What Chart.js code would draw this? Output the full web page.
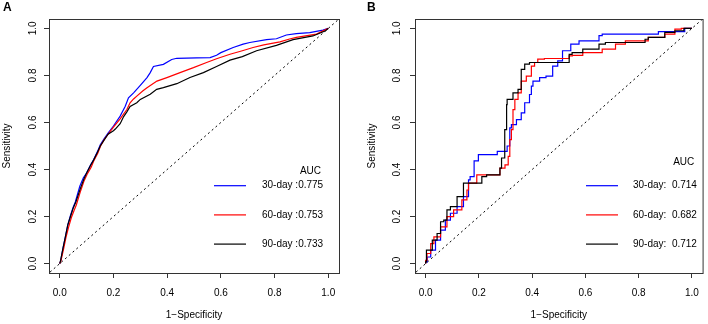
<!DOCTYPE html>
<html>
<head>
<meta charset="utf-8">
<script src="https://cdn.jsdelivr.net/npm/chart.js@4.4.0/dist/chart.umd.min.js"></script>
<style>
body { margin: 0; background: #fff; }
#cadre { position: relative; width: 708px; height: 324px; }
canvas { position: absolute; top: 0; }
#chartA { left: 0; }
#chartB { left: 354px; }
</style>
</head>
<body>
<div id="cadre">
<canvas id="chartA" width="354" height="324"></canvas>
<canvas id="chartB" width="354" height="324"></canvas>
</div>
<script>
// données (1-spécificité = fpr, sensibilité = tpr)
const jours = ['30-day', '60-day', '90-day'];
const couleurs = ['#0000ff', '#ff0000', '#000000'];
const aucA = ['0.775', '0.753', '0.733'];
const aucB = ['0.714', '0.682', '0.712'];
const ticksAxe = [0, 0.2, 0.4, 0.6, 0.8, 1.0];
const bornes = [-0.04, 1.04];
const diagonale = [-0.05, 1.05];

// panneau A
const fprA30 = [0, 0.003, 0.012, 0.021, 0.03, 0.04, 0.05, 0.058, 0.075, 0.088, 0.1, 0.115, 0.126, 0.14, 0.151, 0.165, 0.18, 0.2, 0.225, 0.244, 0.256, 0.275, 0.3, 0.325, 0.337, 0.349, 0.386, 0.417, 0.436, 0.51, 0.56, 0.584, 0.6, 0.646, 0.683, 0.708, 0.77, 0.807, 0.844, 0.881, 0.931, 0.98, 1];
const tprA30 = [0, 0.01, 0.065, 0.114, 0.165, 0.205, 0.24, 0.262, 0.33, 0.365, 0.385, 0.42, 0.441, 0.475, 0.505, 0.53, 0.555, 0.585, 0.627, 0.669, 0.705, 0.726, 0.758, 0.791, 0.812, 0.838, 0.847, 0.868, 0.873, 0.875, 0.876, 0.886, 0.897, 0.919, 0.933, 0.94, 0.952, 0.956, 0.972, 0.978, 0.982, 0.993, 1];
const fprA60 = [0, 0.004, 0.014, 0.023, 0.033, 0.043, 0.053, 0.062, 0.078, 0.09, 0.102, 0.117, 0.128, 0.142, 0.152, 0.166, 0.18, 0.2, 0.225, 0.25, 0.262, 0.275, 0.287, 0.31, 0.325, 0.362, 0.399, 0.448, 0.498, 0.547, 0.584, 0.634, 0.68, 0.72, 0.76, 0.82, 0.856, 0.881, 0.956, 1];
const tprA60 = [0, 0.01, 0.06, 0.11, 0.155, 0.195, 0.225, 0.25, 0.31, 0.35, 0.38, 0.41, 0.44, 0.47, 0.5, 0.528, 0.55, 0.58, 0.615, 0.655, 0.684, 0.7, 0.712, 0.735, 0.748, 0.776, 0.791, 0.812, 0.833, 0.855, 0.871, 0.89, 0.905, 0.919, 0.93, 0.943, 0.955, 0.962, 0.976, 1];
const fprA90 = [0, 0.003, 0.012, 0.021, 0.03, 0.04, 0.05, 0.06, 0.077, 0.09, 0.1, 0.115, 0.126, 0.14, 0.151, 0.165, 0.18, 0.2, 0.207, 0.225, 0.238, 0.25, 0.262, 0.287, 0.3, 0.337, 0.361, 0.386, 0.436, 0.485, 0.535, 0.584, 0.634, 0.68, 0.733, 0.807, 0.869, 0.943, 0.99, 1];
const tprA90 = [0, 0.012, 0.065, 0.114, 0.165, 0.2, 0.235, 0.262, 0.32, 0.36, 0.385, 0.418, 0.44, 0.472, 0.5, 0.525, 0.55, 0.565, 0.572, 0.595, 0.625, 0.645, 0.668, 0.684, 0.698, 0.72, 0.741, 0.748, 0.765, 0.791, 0.812, 0.838, 0.865, 0.88, 0.905, 0.928, 0.952, 0.968, 0.99, 1];

// panneau B
const fprB30 = [0, 0.006, 0.019, 0.037, 0.056, 0.074, 0.093, 0.118, 0.142, 0.161, 0.167, 0.182, 0.198, 0.269, 0.306, 0.316, 0.322, 0.341, 0.359, 0.372, 0.39, 0.397, 0.403, 0.428, 0.452, 0.477, 0.496, 0.514, 0.545, 0.576, 0.651, 0.663, 0.737, 0.874, 0.88, 0.973, 1];
const tprB30 = [0, 0.007, 0.028, 0.057, 0.1, 0.142, 0.185, 0.214, 0.242, 0.285, 0.356, 0.37, 0.437, 0.463, 0.477, 0.5, 0.577, 0.591, 0.612, 0.641, 0.684, 0.719, 0.755, 0.776, 0.791, 0.797, 0.84, 0.862, 0.905, 0.933, 0.947, 0.969, 0.976, 0.976, 0.986, 0.986, 1];
const fprB60 = [0, 0.005, 0.019, 0.031, 0.056, 0.08, 0.105, 0.136, 0.155, 0.161, 0.192, 0.223, 0.279, 0.298, 0.31, 0.316, 0.322, 0.328, 0.335, 0.347, 0.359, 0.378, 0.397, 0.409, 0.421, 0.446, 0.539, 0.551, 0.59, 0.663, 0.713, 0.75, 0.836, 0.898, 0.936, 0.96, 1];
const tprB60 = [0, 0.014, 0.043, 0.085, 0.114, 0.156, 0.2, 0.228, 0.271, 0.313, 0.342, 0.377, 0.377, 0.406, 0.42, 0.456, 0.527, 0.57, 0.655, 0.698, 0.726, 0.776, 0.797, 0.84, 0.855, 0.869, 0.872, 0.883, 0.885, 0.897, 0.912, 0.933, 0.947, 0.962, 0.976, 0.997, 1];
const fprB90 = [0, 0.003, 0.025, 0.043, 0.056, 0.068, 0.08, 0.093, 0.118, 0.142, 0.155, 0.211, 0.229, 0.279, 0.285, 0.297, 0.304, 0.306, 0.328, 0.347, 0.359, 0.372, 0.39, 0.421, 0.539, 0.55, 0.59, 0.651, 0.675, 0.737, 0.824, 0.836, 0.898, 0.936, 0.97, 1];
const tprB90 = [0, 0.007, 0.057, 0.1, 0.128, 0.178, 0.185, 0.228, 0.242, 0.285, 0.342, 0.342, 0.37, 0.377, 0.406, 0.449, 0.57, 0.676, 0.698, 0.726, 0.741, 0.826, 0.848, 0.855, 0.855, 0.89, 0.897, 0.912, 0.933, 0.94, 0.94, 0.954, 0.962, 0.983, 0.99, 1];

Chart.defaults.font.family = '"Liberation Sans", Arial, sans-serif';
Chart.defaults.font.size = 10;
Chart.defaults.color = '#000';

// légende façon R + boite + lettre du panneau
const legendeR = {
  id: 'legendeR',
  afterDraw(chart, args, o) {
    const ctx = chart.ctx;
    const a = chart.chartArea;
    ctx.save();
    ctx.strokeStyle = '#333';
    ctx.lineWidth = 1;
    ctx.strokeRect(a.left + 0.5, a.top + 0.5, a.right - a.left, a.bottom - a.top);

    ctx.font = '10px "Liberation Sans", Arial, sans-serif';
    ctx.fillStyle = '#000';
    ctx.textBaseline = 'middle';
    ctx.textAlign = 'center';
    ctx.fillText('AUC', o.titreX, o.titreY);
    o.textes.forEach((txt, i) => {
      const y = o.y0 + i * o.pas;
      ctx.strokeStyle = couleurs[i];
      ctx.lineWidth = 1.2;
      ctx.beginPath();
      ctx.moveTo(o.x0, y);
      ctx.lineTo(o.x1, y);
      ctx.stroke();
      ctx.textAlign = 'left';
      ctx.fillText(txt, o.xTexte, y);
    });

    ctx.font = 'bold 12px "Liberation Sans", Arial, sans-serif';
    ctx.textAlign = 'left';
    ctx.textBaseline = 'top';
    ctx.fillText(o.lettre, o.lettreX, 2);
    ctx.restore();
  }
};

function faireGraphique(id, fprs, tprs, textes, reglages) {
  const datasets = fprs.map((fpr, i) => ({
    label: jours[i],
    data: fpr.map((x, k) => ({ x: x, y: tprs[i][k] })),
    borderColor: couleurs[i],
    borderWidth: 1.2,
    pointRadius: 0,
    stepped: reglages.marches,
    tension: 0,
    order: 3 - i
  }));
  datasets.push({
    label: 'diag',
    data: diagonale.map(v => ({ x: v, y: v })),
    borderColor: '#000',
    borderWidth: 1,
    borderDash: [2, 3],
    pointRadius: 0,
    order: 5
  });

  return new Chart(document.getElementById(id), {
    type: 'line',
    data: { datasets: datasets },
    options: {
      responsive: false,
      animation: false,
      devicePixelRatio: 1,
      layout: { padding: { left: 0, top: 19, right: reglages.droite, bottom: 0 } },
      plugins: {
        legend: { display: false },
        tooltip: { enabled: false },
        legendeR: {
          textes: textes,
          lettre: reglages.lettre,
          lettreX: reglages.lettreX,
          titreX: reglages.titreX,
          titreY: reglages.titreY,
          x0: reglages.x0,
          x1: reglages.x1,
          xTexte: reglages.xTexte,
          y0: 185.7,
          pas: 29.2
        }
      },
      scales: {
        x: {
          type: 'linear',
          min: bornes[0],
          max: bornes[1],
          afterBuildTicks: s => { s.ticks = ticksAxe.map(v => ({ value: v })); },
          afterFit: s => { s.height = 51; },
          grid: { drawOnChartArea: false, drawTicks: true, tickLength: 5, color: '#333' },
          border: { display: false },
          ticks: { padding: 9, maxRotation: 0, callback: v => v.toFixed(1) },
          title: { display: true, text: '1\u2212Specificity', padding: { top: 0, bottom: 3 } }
        },
        y: {
          type: 'linear',
          min: bornes[0],
          max: bornes[1],
          afterBuildTicks: s => { s.ticks = ticksAxe.map(v => ({ value: v })); },
          afterFit: s => { s.width = reglages.largeurY; },
          grid: { drawOnChartArea: false, drawTicks: true, tickLength: 5, color: '#333' },
          border: { display: false },
          ticks: { padding: reglages.padY, minRotation: 90, maxRotation: 90, crossAlign: 'center', callback: v => v.toFixed(1) },
          title: { display: true, text: 'Sensitivity', padding: { top: reglages.titreYpad, bottom: 0 } }
        }
      }
    },
    plugins: [legendeR]
  });
}

faireGraphique('chartA', [fprA30, fprA60, fprA90], [tprA30, tprA60, tprA90],
  jours.map((j, i) => j + ' :' + aucA[i]),
  { marches: false, droite: 15, largeurY: 49, padY: 4, titreYpad: 1, lettre: 'A', lettreX: 3,
    titreX: 310.5, titreY: 171.7, x0: 214, x1: 246, xTexte: 262 });

faireGraphique('chartB', [fprB30, fprB60, fprB90], [tprB30, tprB60, tprB90],
  jours.map((j, i) => j + ':  ' + aucB[i]),
  { marches: 'after', droite: 3, largeurY: 61, padY: 6, titreYpad: 12, lettre: 'B', lettreX: 13,
    titreX: 329.7, titreY: 162, x0: 232, x1: 264, xTexte: 279 });
</script>
</body>
</html>
